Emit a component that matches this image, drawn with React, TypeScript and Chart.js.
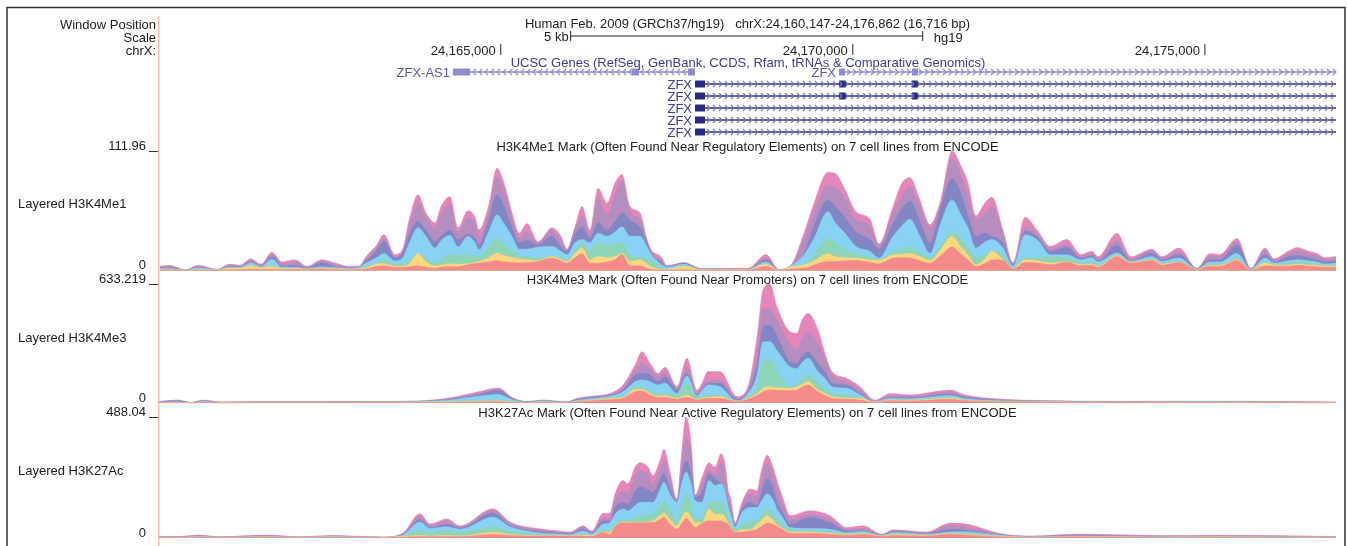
import React, { useEffect, useRef } from "react";
import { Chart, registerables } from "chart.js";

Chart.register(...registerables);

// Window in genome coordinates; a wiggle bin is one drawn column of the browser image.
const WINDOW_START = 24160147;
const WINDOW_END = 24176862;
const BIN_COUNT = 1177;
const BP_PER_BIN = (WINDOW_END - WINDOW_START) / BIN_COUNT;
const RULER_POSITIONS = [24165000, 24170000, 24175000];
const SCALE_BAR_START_BP = 24165993;
const SCALE_BAR_END_BP = 24170993;

const LAYER_NAMES = ["GM12878", "H1-hESC", "HSMM", "HUVEC", "K562", "NHEK", "NHLF"];
const LAYER_COLORS = ["#f48b8b", "#fdd67e", "#8ed4b6", "#88d3f3", "#8386c4", "#b58ebf", "#e686b8"];

const TRACK_MAX_H1 = 111.96;
const TRACK_MAX_H3 = 633.219;
const TRACK_MAX_AC = 488.04;

// [bin, seven overlaid layer tops from the lowest colour to the highest]
const h3k4me1Rows = [
  [1, 1, 1, 1, 2, 3, 3, 4], [10, 1, 1, 1.5, 2, 3, 4, 5], [27, 0.3, 0.3, 0.3, 0.4, 0.5, 0.5, 0.6],
  [39, 0.5, 0.8, 1, 2.5, 3.5, 4, 5], [58, 0.5, 0.5, 0.5, 0.8, 0.8, 1, 1], [71, 0.8, 2, 2.5, 3, 4, 5, 6],
  [81, 1, 2, 2.5, 3, 3.5, 4, 5], [92, 1, 4.5, 5, 7, 8, 9.5, 11], [102, 1, 2.5, 3, 3.5, 4, 5, 6],
  [113, 1, 4, 5, 10.5, 13, 15, 17], [123, 1, 1.5, 2, 3, 4, 6, 8], [136, 1, 2, 2.5, 3, 5, 8, 10],
  [148, 1, 1, 1.5, 2, 2.5, 3, 4], [163, 1.5, 2, 2.5, 3.5, 7, 9, 10], [178, 1, 1.5, 2, 2.5, 3, 5, 6.5],
  [190, 0.8, 1, 1.5, 2, 2.5, 3, 4], [200, 1, 1.5, 2, 3, 3.5, 3.5, 4], [207, 1.5, 2.5, 4, 7, 9, 11, 13],
  [217, 3.8, 6, 7, 11.6, 18, 21, 23], [225, 4.4, 6.3, 10, 16, 27, 30, 33.5], [236, 3, 4, 6, 9, 12, 13, 15],
  [244, 3, 4, 6, 12, 17, 19, 21], [250, 3.5, 6, 9, 25, 33, 40, 47], [259, 4.4, 16, 16.5, 40, 46, 63, 71],
  [267, 3, 8, 11, 32, 38, 50, 54], [276, 2, 4.4, 7, 21, 27, 40, 44.5], [282, 3, 5, 10, 28, 32, 52, 60],
  [291, 3.8, 6.3, 15, 33, 38, 62, 69], [299, 3.5, 6, 14, 22, 29, 36, 40], [309, 5.3, 6.3, 14.7, 32, 34, 50, 56],
  [316, 6.5, 7.5, 14, 26, 30, 44, 50], [320, 7, 8.5, 13, 19.4, 24, 32, 38], [330, 8, 12, 22, 37, 48, 55, 62],
  [338, 9.4, 16.3, 30, 52, 71, 88, 96], [345, 8, 14, 24, 44, 60, 76, 82], [354, 7.5, 12, 18, 30, 38, 46, 51],
  [360, 7, 11, 14, 20, 26, 30, 35], [368, 7.5, 10, 13, 20, 28, 37, 44], [379, 8.5, 9.4, 11.6, 22, 24, 26, 27],
  [393, 11.6, 13, 13, 22.6, 32, 37, 40], [402, 9, 10, 12, 18, 22, 28, 32], [408, 6.9, 8.5, 10, 14.7, 18, 19, 20],
  [416, 12, 16, 19, 26, 34, 39, 41], [423, 16, 21, 26, 29, 41, 51, 60], [431, 6.9, 10, 18, 26, 30, 35, 38],
  [439, 6.9, 13, 26, 35, 45, 68, 77], [448, 8, 12, 24, 32, 38, 52, 63], [456, 10, 13, 25, 36, 46, 72, 82],
  [463, 15, 16, 26, 41, 54, 85, 90], [471, 4.4, 8.5, 15, 32, 47, 55, 60], [481, 4.4, 10, 12, 32, 40, 48, 54],
  [488, 2, 6, 11, 22, 26, 28, 29], [492, 1, 3.8, 10, 15, 16, 18, 19.7], [502, 0.5, 1, 3, 6, 8, 10, 13],
  [508, 0.5, 1, 1.5, 3, 3.5, 4, 4.7], [525, 0.8, 4, 5, 6, 7, 7, 7.5], [542, 0.3, 0.5, 0.6, 0.8, 1, 1.5, 2],
  [589, 0.5, 0.6, 0.8, 1, 1.2, 1.5, 2], [607, 3.8, 6, 7, 8, 10, 12, 15], [620, 0.2, 0.3, 0.4, 0.5, 0.6, 0.7, 1],
  [631, 1.5, 3, 3.5, 3.8, 3.8, 3.8, 3.8], [645, 2.2, 5.3, 5.3, 14.7, 16, 30, 35], [655, 5, 9, 15, 30, 42, 55, 63],
  [669, 8.5, 16, 30, 55, 66, 80, 92], [676, 8.5, 13, 26, 45, 60, 78, 91], [686, 9, 12, 20, 35, 50, 68, 76],
  [697, 9.4, 11.6, 16, 22.6, 36, 48, 55], [711, 7.5, 10, 12.5, 18, 29, 42, 48], [720, 6.3, 9.4, 10, 11.6, 20, 23, 25],
  [734, 11.6, 14.7, 18, 32, 44, 54, 60], [743, 12, 15, 20, 42, 58, 70, 82], [751, 11.6, 16, 22, 48, 65, 78, 87],
  [761, 9, 13, 17, 32, 46, 60, 66], [771, 6.9, 9.4, 11.6, 16, 26, 40, 43], [782, 14, 20, 24, 45, 60, 62, 67],
  [793, 22, 32, 36, 66, 86, 105.5, 111.9], [802, 15, 22, 30, 52, 72, 90, 98], [809, 10, 14.7, 21, 40, 51, 70, 82],
  [817, 3.8, 5.3, 12, 21, 32, 48, 51], [825, 6, 10, 15, 26, 35, 52, 62], [833, 10, 18, 18, 29, 32, 60, 68.6],
  [844, 9.4, 10, 14.7, 21, 26, 35, 38], [854, 1.5, 2, 2.5, 4, 5, 6, 7.5], [866, 7.5, 10, 11.6, 33.5, 37, 41, 50],
  [879, 7, 9, 12, 28, 31, 33, 36.7], [891, 5.3, 7, 13, 14.7, 18, 20, 22.6], [908, 8, 8.5, 12, 14.7, 22, 25, 29],
  [922, 4.4, 5.5, 7, 10, 11.6, 13, 15], [933, 5, 6, 8, 12, 14, 16, 18], [939, 3, 4, 5, 8, 9, 11, 13],
  [958, 13, 14, 15, 16.3, 24, 28, 35], [972, 6.9, 7.5, 8, 8.5, 9, 11, 13], [993, 9.4, 10, 11, 13, 16.3, 19, 20],
  [1003, 5, 6, 7, 8.5, 10, 12, 13], [1020, 7.5, 7.8, 8.5, 11.6, 15, 17, 21], [1038, 0.8, 1, 1.2, 1.5, 1.7, 1.9, 2],
  [1051, 4, 5, 6, 8, 10, 14, 16], [1061, 4, 5, 6, 8, 10, 13, 15], [1078, 9.4, 10, 11.6, 16, 24, 27, 30],
  [1092, 0.5, 0.8, 1, 1.2, 1.5, 1.8, 2], [1106, 4.4, 7, 8, 11.6, 14.7, 19, 21], [1115, 4, 5, 6, 7, 8, 10, 11],
  [1129, 4, 5, 7, 9, 13, 16, 18], [1138, 5, 6, 8, 10, 14, 19, 21.6], [1150, 4, 5, 7, 9, 12, 16, 18],
  [1158, 3.5, 5, 6, 8, 10, 14, 16], [1166, 3, 4, 5, 6, 8, 10, 12], [1177, 3, 4, 5, 7, 9, 11, 13],
];

const h3k4me3Rows = [
  [0, 1, 2, 3, 5, 6, 7, 8], [19, 2, 3, 4, 7, 12, 14, 16], [32, 1, 1, 1, 2, 2, 2, 3], [44, 2, 3, 5, 8, 10, 13, 16],
  [62, 1, 1, 2, 3, 3, 4, 5], [100, 2, 3, 3, 4, 5, 6, 8], [168, 2, 3, 3, 4, 5, 6, 8], [220, 2, 3, 4, 5, 6, 7, 8],
  [258, 2, 4, 5, 6, 7, 9, 11], [291, 4, 6, 8, 16, 20, 24, 27], [318, 6, 9, 12, 35, 42, 50, 58],
  [339, 8, 12, 16, 45, 68, 75, 80], [354, 3, 5, 8, 16, 20, 24, 27], [368, 2, 3, 3, 5, 6, 7, 8],
  [384, 3, 4, 6, 9, 11, 14, 16], [408, 2, 2, 3, 3, 4, 5, 6], [418, 6, 8, 10, 14, 18, 22, 25],
  [434, 12, 16, 20, 25, 30, 34, 37], [451, 18, 24, 30, 36, 42, 47, 51], [464, 25, 30, 34, 60, 69, 80, 96],
  [476, 60, 73, 87, 113, 149, 176, 202], [483, 64, 73, 83, 122, 158, 211, 273], [491, 43, 51, 60, 113, 149, 184, 211],
  [499, 30, 37, 51, 96, 113, 140, 158], [506, 30, 38, 51, 105, 140, 167, 190], [518, 20, 25, 43, 51, 69, 78, 87],
  [528, 30, 43, 105, 144, 158, 193, 238], [538, 16, 20, 30, 37, 43, 50, 69], [543, 20, 25, 35, 65, 72, 88, 105],
  [549, 25, 30, 43, 96, 105, 122, 167], [561, 25, 34, 43, 87, 105, 122, 167], [578, 7, 8, 10, 12, 18, 25, 34],
  [589, 20, 25, 34, 51, 60, 75, 87], [598, 40, 50, 80, 150, 200, 270, 353], [604, 60, 78, 220, 326, 406, 503, 601],
  [611, 69, 87, 229, 326, 415, 503, 633], [618, 68, 82, 170, 280, 355, 445, 512], [631, 66, 78, 87, 193, 220, 308, 379],
  [638, 69, 87, 96, 184, 211, 282, 371], [643, 85, 100, 125, 215, 250, 340, 441], [649, 96, 113, 149, 238, 273, 379, 477],
  [659, 60, 69, 105, 167, 211, 317, 388], [666, 40, 50, 80, 130, 165, 240, 264], [673, 25, 34, 51, 87, 105, 149, 167],
  [688, 20, 25, 43, 78, 96, 113, 131], [701, 16, 25, 30, 43, 51, 70, 87], [716, 3, 4, 5, 6, 7, 8, 16],
  [731, 12, 16, 20, 25, 30, 40, 51], [751, 10, 14, 18, 22, 28, 35, 43], [791, 20, 25, 30, 40, 48, 60, 69],
  [806, 12, 15, 18, 24, 30, 36, 43], [841, 6, 8, 10, 12, 14, 18, 21], [900, 4, 5, 6, 7, 8, 10, 12],
  [960, 2, 3, 3, 4, 5, 6, 8], [1040, 3, 4, 5, 6, 7, 8, 10], [1110, 2, 3, 4, 5, 6, 7, 8], [1177, 1, 2, 2, 3, 3, 4, 5],
];

const h3k27acRows = [
  [0, 1, 2, 2, 3, 4, 5, 6], [20, 1, 2, 2, 3, 4, 5, 6], [39, 3, 4, 5, 6, 8, 10, 12], [60, 1, 2, 2, 3, 3, 4, 5],
  [108, 3, 4, 5, 6, 8, 10, 12], [140, 1, 2, 2, 3, 3, 4, 5], [174, 3, 4, 5, 6, 7, 9, 10], [224, 1, 2, 2, 2, 3, 3, 4],
  [244, 3, 6, 9, 12, 14, 17, 20], [261, 6, 10, 30, 65, 75, 88, 98], [271, 5, 8, 22, 38, 42, 50, 57],
  [288, 6, 10, 30, 45, 55, 68, 77], [301, 5, 8, 22, 35, 40, 45, 49], [334, 15, 22, 45, 85, 100, 112, 118],
  [351, 10, 14, 28, 45, 50, 60, 65], [381, 8, 10, 14, 20, 26, 32, 37], [401, 8, 10, 12, 16, 20, 25, 28],
  [411, 7, 8, 10, 13, 17, 20, 24], [424, 8, 12, 18, 28, 36, 44, 49], [433, 6, 9, 12, 16, 20, 24, 28],
  [444, 22, 24, 35, 56, 69, 83, 100], [451, 15, 22, 28, 62, 69, 80, 100], [456, 46, 49, 56, 96, 123, 151, 178],
  [464, 62, 66, 76, 117, 144, 191, 232], [469, 60, 64, 70, 110, 135, 180, 218], [476, 62, 64, 85, 130, 190, 250, 286],
  [481, 60, 62, 90, 144, 205, 273, 304], [489, 62, 66, 92, 144, 195, 255, 286], [494, 62, 69, 96, 144, 184, 218, 252],
  [501, 75, 90, 125, 195, 235, 280, 313], [505, 83, 100, 151, 225, 259, 313, 358], [511, 55, 75, 115, 175, 195, 240, 266],
  [518, 35, 49, 69, 144, 150, 153, 157], [523, 60, 85, 140, 225, 260, 320, 360], [527, 79, 106, 171, 266, 313, 401, 488],
  [532, 60, 85, 135, 220, 260, 350, 388], [536, 42, 62, 76, 151, 165, 170, 171], [543, 60, 62, 83, 144, 185, 218, 245],
  [550, 69, 117, 144, 232, 259, 279, 304], [556, 69, 96, 144, 212, 239, 252, 286], [562, 69, 96, 144, 219, 219, 300, 340],
  [566, 62, 85, 125, 190, 195, 265, 300], [569, 56, 62, 76, 130, 144, 170, 198], [572, 40, 45, 60, 90, 100, 125, 157],
  [576, 22, 25, 35, 45, 50, 55, 62], [583, 24, 33, 49, 103, 117, 130, 144], [591, 28, 33, 69, 123, 144, 178, 198],
  [598, 35, 56, 69, 123, 130, 170, 191], [602, 45, 70, 90, 145, 180, 225, 265], [608, 60, 90, 117, 178, 239, 300, 334],
  [614, 55, 72, 100, 155, 205, 260, 286], [618, 46, 52, 76, 117, 144, 198, 232], [624, 32, 38, 55, 80, 100, 135, 160],
  [631, 19, 24, 35, 42, 56, 75, 90], [651, 19, 24, 28, 38, 83, 96, 110], [671, 15, 19, 24, 35, 62, 76, 90],
  [688, 11, 14, 18, 22, 28, 35, 42], [704, 15, 18, 22, 26, 28, 38, 49], [723, 6, 8, 9, 10, 12, 13, 15],
  [734, 10, 14, 18, 22, 26, 30, 33], [768, 8, 10, 12, 15, 18, 21, 24], [791, 15, 18, 20, 24, 35, 50, 60],
  [806, 12, 15, 20, 25, 32, 45, 57], [841, 5, 7, 9, 11, 13, 15, 18], [870, 1, 2, 3, 4, 5, 6, 8],
  [920, 4, 5, 6, 8, 10, 13, 16], [1000, 2, 3, 4, 5, 6, 8, 10], [1060, 3, 4, 5, 6, 7, 9, 11],
  [1110, 2, 3, 4, 5, 6, 8, 10], [1177, 2, 3, 4, 4, 5, 5, 6],
];

// Gene models: row, first bin, last bin, strand, exon bin ranges
const LIGHT_GENES = [
  { name: "ZFX-AS1", row: 0, span: [311, 536], strand: -1, exons: [[294, 311], [473, 480], [529, 536]] },
  { name: "ZFX", row: 0, span: [686, 1177], strand: 1, exons: [[680, 686], [753, 759]] },
];
const DARK_GENES = [
  { name: "ZFX", row: 1, span: [546, 1177], strand: 1, exons: [[536, 546], [680, 687], [753, 759]] },
  { name: "ZFX", row: 2, span: [546, 1177], strand: 1, exons: [[536, 546], [680, 687], [753, 759]] },
  { name: "ZFX", row: 3, span: [546, 1177], strand: 1, exons: [[536, 546]] },
  { name: "ZFX", row: 4, span: [546, 1177], strand: 1, exons: [[536, 546]] },
  { name: "ZFX", row: 5, span: [546, 1177], strand: 1, exons: [[536, 546]] },
];

const TRACK_TITLES = [
  "H3K4Me1 Mark (Often Found Near Regulatory Elements) on 7 cell lines from ENCODE",
  "H3K4Me3 Mark (Often Found Near Promoters) on 7 cell lines from ENCODE",
  "H3K27Ac Mark (Often Found Near Active Regulatory Elements) on 7 cell lines from ENCODE",
];
const TRACK_NAMES = ["Layered H3K4Me1", "Layered H3K4Me3", "Layered H3K27Ac"];
const HEADER_TITLE = "Human Feb. 2009 (GRCh37/hg19)   chrX:24,160,147-24,176,862 (16,716 bp)";
const GENES_TITLE = "UCSC Genes (RefSeq, GenBank, CCDS, Rfam, tRNAs & Comparative Genomics)";
const SIDE_LABELS = ["Window Position", "Scale", "chrX:"];

const FONT = '13px "Liberation Sans", Arial, sans-serif';
const LIGHT = "#8d8dd0";
const DARK = "#2a2a82";
const TEXT = "#222222";
const NAVY = "#3b3b92";
const PINK_RULE = "#f7bcbc";

const bpToBin = (bp: number) => (bp - WINDOW_START) / BP_PER_BIN;

function layerDatasets(rows: number[][], axis: string) {
  return LAYER_NAMES.map((name, i) => ({
    type: "line" as const,
    label: `${axis} ${name}`,
    yAxisID: axis,
    data: rows.map((r) => ({ x: r[0], y: r[i + 1] })),
    backgroundColor: LAYER_COLORS[i],
    borderColor: LAYER_COLORS[i],
    borderWidth: 0.5,
    pointRadius: 0,
    cubicInterpolationMode: "monotone",
    fill: "origin",
  }));
}

function geneDatasets(genes: typeof DARK_GENES, color: string) {
  const out: any[] = [];
  genes.forEach((g) => {
    out.push({
      type: "line" as const,
      label: `${g.name} intron`,
      yAxisID: "yGenes",
      data: g.span.map((x) => ({ x, y: g.row })),
      borderColor: color,
      borderWidth: 1.4,
      pointRadius: 0,
      fill: false,
    });
    g.exons.forEach((e) => {
      out.push({
        type: "line" as const,
        label: `${g.name} exon`,
        yAxisID: "yGenes",
        data: e.map((x) => ({ x, y: g.row })),
        borderColor: color,
        borderWidth: 7,
        borderCapStyle: "butt",
        pointRadius: 0,
        fill: false,
      });
    });
  });
  return out;
}

const fitAxis = (s: any) => {
  s.width = 159;
  s.paddingTop = 0;
  s.paddingBottom = 0;
};

const trackAxis = (max: number, min: number, weight: number) => ({
  type: "linear" as const,
  position: "left" as const,
  stack: "tracks",
  stackWeight: weight,
  min,
  max,
  afterFit: fitAxis,
  afterBuildTicks: (s: any) => { s.ticks = [{ value: 0 }, { value: max }]; },
  ticks: {
    autoSkip: false,
    color: TEXT,
    font: { family: '"Liberation Sans", Arial, sans-serif', size: 13 },
    padding: 3,
    labelOffset: -5,
    callback: (v: any) => String(v),
  },
  grid: {
    drawOnChartArea: false,
    tickLength: 10,
    color: (ctx: any) => (ctx.tick && ctx.tick.value > 0 ? "#333333" : "rgba(0,0,0,0)"),
  },
  border: { display: true, color: PINK_RULE, width: 1.5 },
});

const annotationPlugin = {
  id: "browserAnnotations",
  afterDatasetsDraw(chart: any) {
    const { ctx, scales } = chart;
    const x = scales.x;
    const yG = scales.yGenes;
    const rowY = (r: number) => yG.getPixelForValue(r);
    const text = (s: string, px: number, py: number, align: CanvasTextAlign, color = TEXT) => {
      ctx.fillStyle = color;
      ctx.textAlign = align;
      ctx.fillText(s, px, py);
    };
    ctx.save();
    ctx.font = FONT;
    ctx.textBaseline = "middle";

    // frame
    ctx.strokeStyle = "#333333";
    ctx.lineWidth = 1.5;
    ctx.beginPath();
    ctx.moveTo(7, 546);
    ctx.lineTo(7, 7.5);
    ctx.lineTo(1345, 7.5);
    ctx.lineTo(1345, 546);
    ctx.stroke();

    // chevrons on gene spans
    const drawChevrons = (genes: typeof DARK_GENES, color: string) => {
      ctx.strokeStyle = color;
      ctx.lineWidth = 1.2;
      genes.forEach((g) => {
        const y = rowY(g.row);
        const x0 = x.getPixelForValue(g.span[0]);
        const x1 = x.getPixelForValue(g.span[1]);
        ctx.beginPath();
        for (let p = x0 + 4; p < x1; p += 6) {
          ctx.moveTo(p - 2 * g.strand, y - 3);
          ctx.lineTo(p + g.strand, y);
          ctx.lineTo(p - 2 * g.strand, y + 3);
        }
        ctx.stroke();
      });
    };
    drawChevrons(LIGHT_GENES, LIGHT);
    drawChevrons(DARK_GENES, "#7c7cc4");

    // gene names
    text(LIGHT_GENES[0].name, x.getPixelForValue(LIGHT_GENES[0].exons[0][0]) - 3, rowY(0) + 1, "right", "#5858ac");
    text(LIGHT_GENES[1].name, x.getPixelForValue(LIGHT_GENES[1].exons[0][0]) - 3, rowY(0) + 1, "right", "#5858ac");
    DARK_GENES.forEach((g) => {
      text(g.name, x.getPixelForValue(g.exons[0][0]) - 3, rowY(g.row) + 1, "right", NAVY);
    });

    // header
    text(HEADER_TITLE, 747.5, 24, "center");
    const barY = 36;
    const bar0 = x.getPixelForValue(bpToBin(SCALE_BAR_START_BP));
    const bar1 = x.getPixelForValue(bpToBin(SCALE_BAR_END_BP));
    ctx.strokeStyle = "#222222";
    ctx.lineWidth = 1;
    ctx.beginPath();
    ctx.moveTo(bar0, barY);
    ctx.lineTo(bar1, barY);
    ctx.moveTo(bar0, barY - 5);
    ctx.lineTo(bar0, barY + 5);
    ctx.moveTo(bar1, barY - 5);
    ctx.lineTo(bar1, barY + 5);
    ctx.stroke();
    text("5 kb", bar0 - 2, barY + 1, "right");
    text("hg19", bar1 + 11, barY + 2, "left");

    RULER_POSITIONS.forEach((bp) => {
      const p = x.getPixelForValue(bpToBin(bp));
      ctx.beginPath();
      ctx.moveTo(p, 44);
      ctx.lineTo(p, 55);
      ctx.stroke();
      text(bp.toLocaleString("en-US"), p - 5, 51, "right");
    });
    text(GENES_TITLE, 748, 63, "center", NAVY);

    SIDE_LABELS.forEach((s, i) => text(s, 156, 25 + i * 13, "right"));

    const tops = [scales.yH1.top, scales.yH3.top, scales.yAc.top];
    TRACK_TITLES.forEach((s, i) => text(s, 747.5, tops[i] - 4, "center"));
    const mids = [204, 338, 471];
    TRACK_NAMES.forEach((s, i) => text(s, 18, mids[i], "left"));
    ctx.restore();
  },
};

export default function App() {
  const ref = useRef<HTMLCanvasElement | null>(null);
  useEffect(() => {
    if (!ref.current) return;
    const chart = new Chart(ref.current, {
      type: "line",
      data: {
        datasets: [
          ...geneDatasets(LIGHT_GENES, LIGHT),
          ...geneDatasets(DARK_GENES, DARK),
          ...layerDatasets(h3k4me1Rows, "yH1"),
          ...layerDatasets(h3k4me3Rows, "yH3"),
          ...layerDatasets(h3k27acRows, "yAc"),
        ] as any,
      },
      options: {
        responsive: false,
        animation: false,
        devicePixelRatio: 1,
        parsing: false as any,
        normalized: true,
        events: [],
        layout: { padding: { top: 17, right: 11, bottom: 0, left: 0 } },
        plugins: { legend: { display: false }, tooltip: { enabled: false }, title: { display: false } },
        scales: {
          x: { type: "linear", min: 0, max: BIN_COUNT, display: false },
          yAc: trackAxis(TRACK_MAX_AC, -32.3, 129),
          yH3: trackAxis(TRACK_MAX_H3, -74.5, 133),
          yH1: trackAxis(TRACK_MAX_H1, -12.65, 133),
          yGenes: {
            type: "linear",
            position: "left",
            stack: "tracks",
            stackWeight: 134,
            reverse: true,
            min: -4.583,
            max: 6.583,
            afterFit: fitAxis,
            ticks: { display: false },
            grid: { display: false },
            border: { display: true, color: PINK_RULE, width: 1.5 },
          },
        } as any,
      },
      plugins: [annotationPlugin],
    });
    return () => chart.destroy();
  }, []);
  return (
    <canvas
      ref={ref}
      width={1347}
      height={546}
      style={{ position: "fixed", left: 0, top: 0, width: 1347, height: 546, display: "block", background: "#ffffff" }}
    />
  );
}
